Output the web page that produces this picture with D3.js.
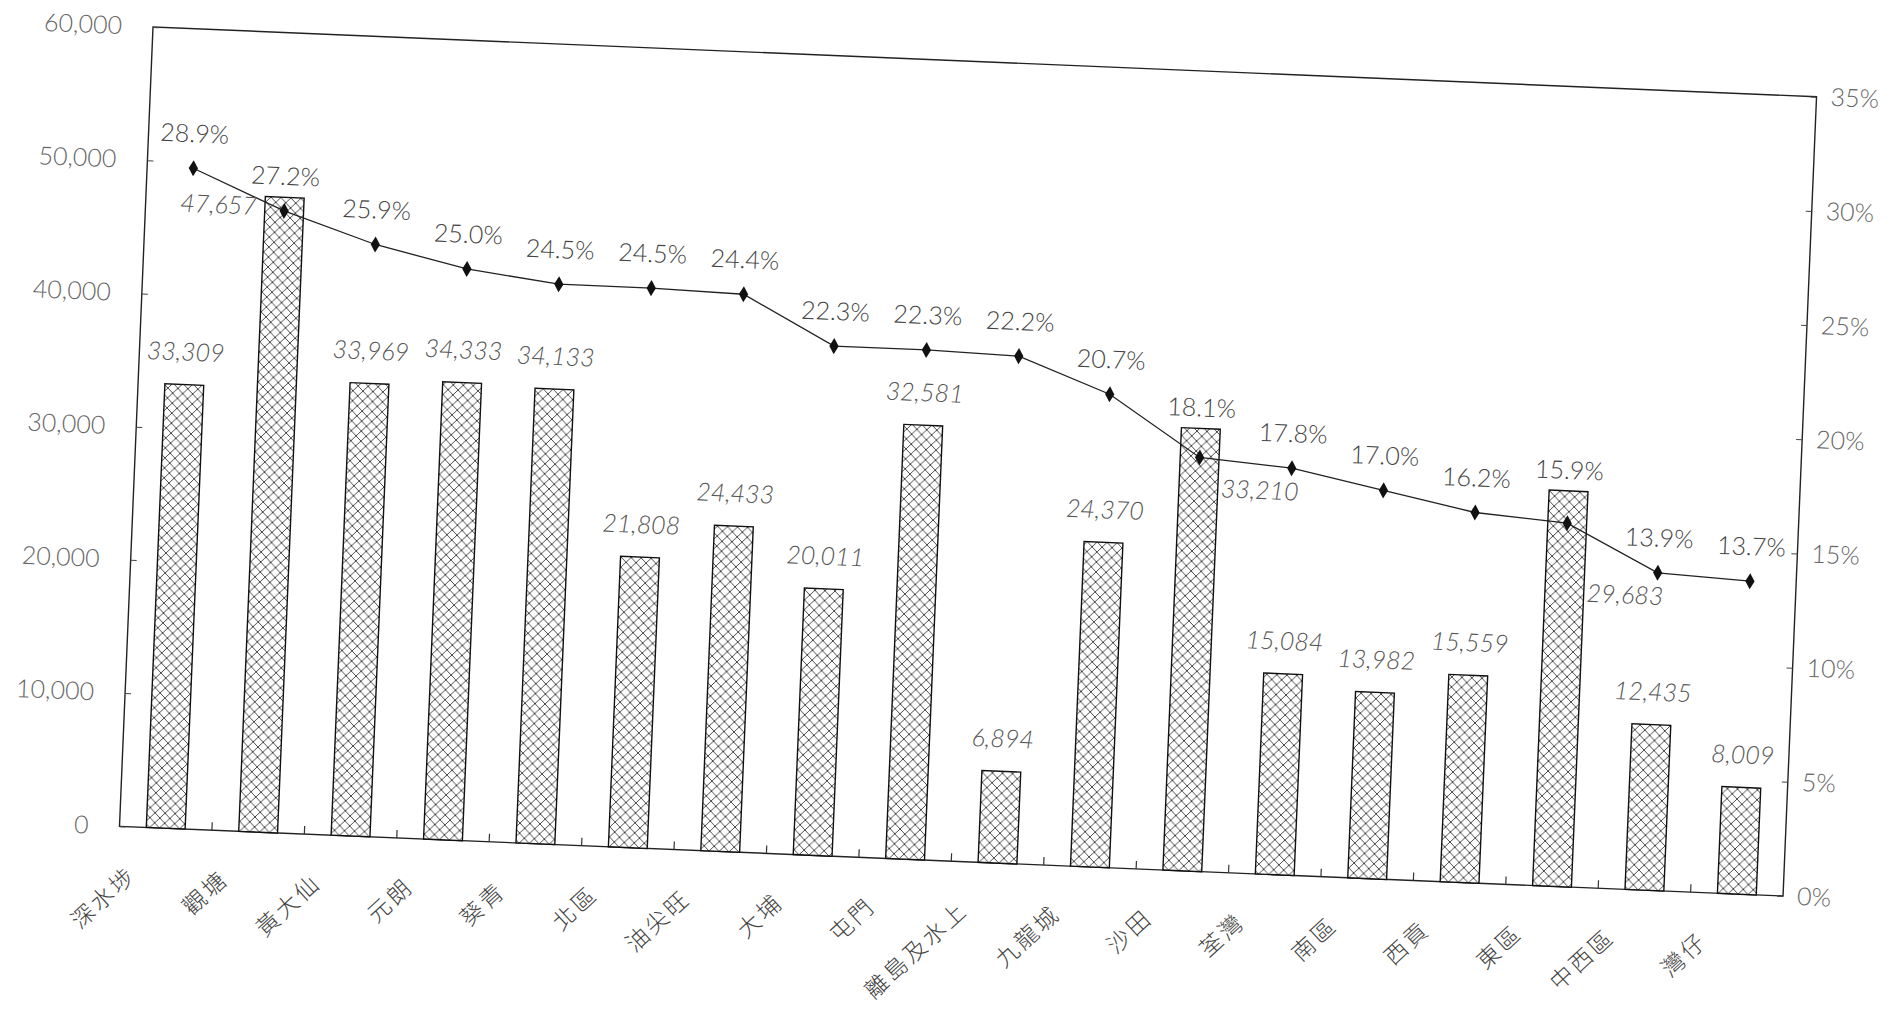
<!DOCTYPE html>
<html><head><meta charset="utf-8">
<script src="https://cdn.jsdelivr.net/npm/d3@7"></script>
<style>html,body{margin:0;padding:0;background:#fff;} svg{display:block}</style>
</head><body>
<svg id="chart" width="1893" height="1011"></svg>
<script>
const categories = ["深水埗","觀塘","黃大仙","元朗","葵青","北區","油尖旺","大埔","屯門","離島及水上","九龍城","沙田","荃灣","南區","西貢","東區","中西區","灣仔"];
const households = [33309,47657,33969,34333,34133,21808,24433,20011,32581,6894,24370,33210,15084,13982,15559,29683,12435,8009];
const shares = [28.9,27.2,25.9,25.0,24.5,24.5,24.4,22.3,22.3,22.2,20.7,18.1,17.8,17.0,16.2,15.9,13.9,13.7];
const countTicks = [0,10000,20000,30000,40000,50000,60000];
const shareTicks = [0,5,10,15,20,25,30,35];

const svg = d3.select('#chart');
svg.append('rect').attr('width',1893).attr('height',1011).attr('fill','#fff');
const defs = svg.append('defs');
const pat = defs.append('pattern').attr('id','hatch').attr('patternUnits','userSpaceOnUse')
  .attr('width',10).attr('height',10);
pat.append('rect').attr('width',10).attr('height',10).attr('fill','#fff');
pat.append('path').attr('d','M0,0L10,10M10,0L0,10').attr('stroke','#333').attr('stroke-width',0.9);

const pw = 1665, ph = 800;
const g = svg.append('g').attr('transform','translate(153,27) rotate(2.4)');
const numFont = 'Lato, "DejaVu Sans", sans-serif';

const x = d3.scaleBand().domain(categories).range([0,pw]).paddingInner(0.58).paddingOuter(0.29);
const yL = d3.scaleLinear().domain([0,60000]).range([ph,0]);
const yR = d3.scaleLinear().domain([0,35]).range([ph,0]);
const bw = x.bandwidth(), step = x.step();
const cx = c => x(c) + bw/2;

// frame
g.append('rect').attr('x',0).attr('y',0).attr('width',pw).attr('height',ph)
  .attr('fill','none').attr('stroke','#222').attr('stroke-width',1.4);

// left axis
const ax = g.append('g').call(d3.axisLeft(yL).tickValues(countTicks).tickFormat(d3.format(','))
  .tickSizeInner(-6).tickSizeOuter(0).tickPadding(31));
ax.select('.domain').remove();
ax.selectAll('line').attr('stroke','#444');
ax.selectAll('text').attr('font-family',numFont).attr('font-weight',300).attr('font-size',25).attr('fill','#666');

// right axis
const ar = g.append('g').attr('transform',`translate(${pw},0)`).call(d3.axisRight(yR).tickValues(shareTicks)
  .tickFormat(d => d + '%').tickSizeInner(-6).tickSizeOuter(0).tickPadding(14));
ar.select('.domain').remove();
ar.selectAll('line').attr('stroke','#444');
ar.selectAll('text').attr('font-family',numFont).attr('font-weight',300).attr('font-size',25).attr('fill','#666');

// x ticks at category boundaries
g.append('g').selectAll('line').data(categories.slice(0,-1)).join('line')
  .attr('x1', c => cx(c) + step/2).attr('x2', c => cx(c) + step/2)
  .attr('y1', ph).attr('y2', ph - 8).attr('stroke','#333').attr('stroke-width',1.2);

// category labels
g.append('g').selectAll('text').data(categories).join('text')
  .attr('transform', c => `translate(${cx(c) - 26},${ph + 50}) rotate(-45)`)
  .attr('text-anchor','end')
  .attr('font-family','"Noto Sans CJK TC", "Noto Sans CJK SC", sans-serif')
  .attr('font-weight',300).attr('font-size',23).attr('letter-spacing',3).attr('fill','#444')
  .text(c => c);

// bars
const data = categories.map((c,i) => ({c, v: households[i], s: shares[i], i}));
g.append('g').selectAll('rect').data(data).join('rect')
  .attr('x', d => x(d.c)).attr('y', d => yL(d.v)).attr('width', bw).attr('height', d => ph - yL(d.v))
  .attr('fill','url(#hatch)').attr('stroke','#111').attr('stroke-width',1.4);

// line
const line = d3.line().x(d => cx(d.c)).y(d => yR(d.s));
g.append('path').datum(data).attr('d', line).attr('fill','none').attr('stroke','#222').attr('stroke-width',1.3);
g.append('g').selectAll('path').data(data).join('path')
  .attr('transform', d => `translate(${cx(d.c)},${yR(d.s)})`)
  .attr('d', d3.symbol().type(d3.symbolDiamond).size(75)).attr('fill','#111');

// share labels: above marker, lifted above the bar top when the bar reaches the marker
g.append('g').selectAll('text').data(data).join('text')
  .attr('x', d => cx(d.c)).attr('y', d => Math.min(yR(d.s) - 26, yL(d.v) - 12))
  .attr('text-anchor','middle').attr('font-family',numFont).attr('font-weight',300)
  .attr('font-size',25).attr('fill','#444')
  .text(d => d3.format('.1f')(d.s) + '%');

// bar value labels
const fmt = d3.format(',');
const n = categories.length;
g.append('g').selectAll('text').data(data).join('text')
  .each(function(d){
    const by = yL(d.v), my = yR(d.s), t = d3.select(this);
    if (by < my) {
      if (d.i < n/2) {
        t.attr('x', x(d.c) - 8).attr('y', my + 5).attr('text-anchor','end');
      } else {
        const nextY = d.i < n - 1 ? yR(shares[d.i + 1]) : my;
        t.attr('x', x(d.c) + bw + 3).attr('y', Math.max(my, nextY) + 32).attr('text-anchor','start');
      }
    } else {
      t.attr('x', cx(d.c)).attr('y', by - 24).attr('text-anchor','middle');
    }
  })
  .attr('font-family',numFont).attr('font-style','italic').attr('font-weight',300)
  .attr('font-size',25).attr('fill','#555')
  .text(d => fmt(d.v));
</script>
</body></html>
